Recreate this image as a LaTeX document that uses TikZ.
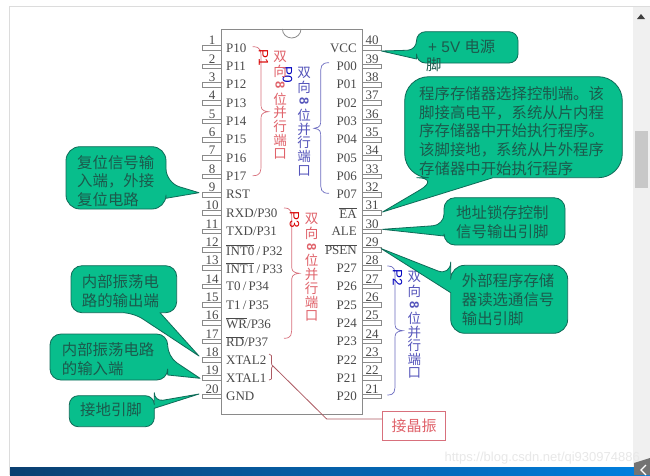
\documentclass[tikz,border=0pt]{standalone}
\usepackage{fontspec}
\setmainfont{Liberation Serif}
\newfontfamily\cjk{Noto Sans CJK SC}
\newfontfamily\arialf{Liberation Sans}
\definecolor{bubfill}{HTML}{08BE8C}
\definecolor{bubline}{HTML}{0F6B58}
\definecolor{bubtext}{HTML}{1C5A4C}
\definecolor{chipline}{HTML}{8A8A8A}
\definecolor{pintext}{HTML}{4A4A4A}
\definecolor{redbr}{HTML}{D8707C}
\definecolor{bluebr}{HTML}{6A6AC0}
\definecolor{redtx}{HTML}{E0626A}
\definecolor{bluetx}{HTML}{5555BB}
\definecolor{scrollbg}{HTML}{F0F0F0}
\definecolor{thumb}{HTML}{C8C8C8}
\definecolor{framegray}{HTML}{DCDCDC}
\definecolor{barleft}{HTML}{0A3F70}
\definecolor{barright}{HTML}{0080E0}
\tikzset{
  x=1pt,y=-1pt,
  bubble/.style={fill=bubfill,draw=bubline,line width=.8pt,line join=round},
  bubtxt/.style={font=\cjk\fontsize{15.4}{18.6}\selectfont,text=bubtext,inner sep=0pt,anchor=west,align=left},
  stub/.style={draw=chipline,fill=white,line width=.7pt,minimum width=18.5pt,minimum height=4.6pt,inner sep=0pt,outer sep=0pt},
  pinnum/.style={font=\fontsize{13}{13}\selectfont,text=pintext,inner sep=0pt},
  pinl/.style={font=\fontsize{13}{13}\selectfont,text=pintext,inner sep=0pt,anchor=west},
  pinr/.style={font=\fontsize{13}{13}\selectfont,text=pintext,inner sep=0pt,anchor=east},
  vcjkr/.style={font=\cjk\fontsize{13.5}{13.5}\selectfont,text=redtx,inner sep=0pt},
  vcjkb/.style={font=\cjk\fontsize{13.5}{13.5}\selectfont,text=bluetx,inner sep=0pt},
  brc/.style={line width=.7pt},
  portname/.style={font=\arialf\fontsize{13.5}{13.5}\selectfont,inner sep=0pt,rotate=-90},
}
% #1 side point A, #2 tip, #3 side point B, #4-#7 rectangle corners in order from B to A, #8 radius
\newcommand{\bubblepath}[8]{\path[bubble] #3 [rounded corners=#8] -- #4 -- #5 -- #6 -- #7 -- #1 [sharp corners] -- #2 -- cycle;}
\newcommand{\ovl}[1]{$\overline{\mbox{#1}}$}
% vertical caption: x, y of first char, spacing, style
\newcommand{\vcap}[5]{%
  \foreach \c [count=\i from 0] in {双,向,8,位,并,行,端,口}{
    \pgfmathsetmacro{\yy}{#2+\i*#3}
    \ifnum\i=2
      \node[#4,rotate=-90,font=\arialf\bfseries\fontsize{13}{13}\selectfont] (#5\i) at (#1,\yy) {\c};
    \else
      \node[#4] (#5\i) at (#1,\yy) {\c};
    \fi
  }}
% brace: #1 x-end, #2 y-top, #3 y-bottom, #4 x-mid, #5 x-tip, #6 y-tip, #7 colour
\newcommand{\bracep}[7]{%
  \draw[brc,draw=#7] (#1,#2) .. controls (#4,#2) and (#4,#2+4) .. (#4,#2+12)
    -- (#4,#6-9) .. controls (#4,#6-3) and (#4,#6-1) .. (#5,#6)
    .. controls (#4,#6+1) and (#4,#6+3) .. (#4,#6+9)
    -- (#4,#3-12) .. controls (#4,#3-4) and (#4,#3) .. (#1,#3);}
\begin{document}
\begin{tikzpicture}
\useasboundingbox (0,0) rectangle (650,475);
\fill[white] (0,0) rectangle (650,475);
% page frame
\fill[scrollbg] (633,7) rectangle (650,467);
\fill[thumb] (635,131) rectangle (648,188);
\fill[black!75] (641,14) -- (645,19) -- (637,19) -- cycle;
\draw[framegray,line width=1pt] (9.5,475) -- (9.5,6.5) -- (650,6.5);
\fill[left color=barleft,right color=barright] (10,467.5) rectangle (650,475);
\node[font=\arialf\fontsize{13}{13}\selectfont,text=black!9,inner sep=0pt,anchor=east] (wmark) at (640,458) {https://blog.csdn.net/qi930974886};
\fill[black!55] (634,463) -- (650,458) -- (650,475) -- (634,475) -- cycle;
\draw[white,line width=1.3pt] (646,465) -- (641,470) -- (646,475);
% chip
\node[draw=chipline,line width=.8pt,minimum width=141pt,minimum height=385pt,inner sep=0pt,outer sep=0pt] (chip) at (292,221.5) {};
\draw[chipline,line width=.8pt] (282.4,29) arc[start angle=180,end angle=360,x radius=9.3pt,y radius=9pt];
% pins
\foreach \n/\lab [count=\k from 0] in {1/P10,2/P11,3/P12,4/P13,5/P14,6/P15,7/P16,8/P17,9/RST,10/{RXD/P30},11/{TXD/P31},12/{\ovl{INT0}\,/\,P32},13/{\ovl{INT1}\,/\,P33},14/{T0\,/\,P34},15/{T1\,/\,P35},16/{\ovl{WR}/P36},17/{\ovl{RD}/P37},18/XTAL2,19/XTAL1,20/GND}{
  \pgfmathsetmacro{\py}{48+\k*18.34}
  \node[stub] (pin\n) at (212,\py) {};
  \node[pinnum] (num\n) at (212,\py-7.5) {\n};
  \node[pinl] (lab\n) at (226,\py) {\lab};
}
\foreach \n/\lab [count=\k from 0] in {40/VCC,39/P00,38/P01,37/P02,36/P03,35/P04,34/P05,33/P06,32/P07,31/{\ovl{EA}\hspace{3pt}},30/ALE,29/{\ovl{PSEN}},28/P27,27/P26,26/P25,25/P24,24/P23,23/P22,22/P21,21/P20}{
  \pgfmathsetmacro{\py}{48+\k*18.34}
  \node[stub] (pin\n) at (372,\py) {};
  \node[pinnum] (num\n) at (372,\py-7.5) {\n};
  \node[pinr] (lab\n) at (357,\py) {\lab};
}
% braces
\bracep{252.7}{46.7}{175.7}{261}{268.3}{111.7}{redbr}
\bracep{329}{62.7}{193.3}{320.7}{314}{128.3}{bluebr}
\bracep{284}{208}{338.3}{291.7}{299.3}{273.3}{redbr}
\bracep{387.3}{266}{395}{395}{402.7}{330.7}{bluebr}
\draw[brc,draw=redbr!80!black] (269,354) .. controls (272,354) and (271.5,356) .. (271.5,360) -- (271.5,363) .. controls (271.5,364.5) and (272,365.5) .. (273,366)
  .. controls (272,366.5) and (271.5,367.5) .. (271.5,369) -- (271.5,375) .. controls (271.5,379) and (272,380) .. (269,380);
% port captions
\node[portname,text=red!85!black] (p1) at (263.5,58) {P1};
\node[portname,text=blue!75!black] (p0) at (287.5,75) {P0};
\node[portname,text=red!85!black] (p3) at (294.5,220) {P3};
\node[portname,text=blue!75!black] (p2) at (397.5,278) {P2};
\vcap{280}{57.3}{13.85}{vcjkr}{va}
\vcap{304}{73.3}{13.9}{vcjkb}{vb}
\vcap{311.7}{219}{13.9}{vcjkr}{vc}
\vcap{414.3}{277.3}{13.7}{vcjkb}{vd}
% crystal note
\node[draw=redbr,line width=1pt,fill=white,minimum width=63pt,minimum height=29pt,inner sep=0pt,font=\cjk\fontsize{15}{15}\selectfont,text=redtx] (xtalbox) at (414.2,425.5) {接晶振};
\coordinate (xtip) at (273,366);
\coordinate (xbend) at (326.7,419);
\draw[line width=.8pt,draw=redbr!80!black] (xtip) -- (xbend) -- (xtalbox.west |- xbend);
% callouts
\bubblepath{(416.5,50)}{(381.5,51)}{(416.5,59)}{(416.5,63)}{(518,63)}{(518,31.7)}{(416.5,31.7)}{9pt}
\node[bubtxt,font=\arialf\fontsize{15.4}{15.4}\selectfont] (c1a) at (428,47) {+ 5V \cjk 电源};
\node[bubtxt] (c1b) at (426,64.5) {脚};

\bubblepath{(440.7,177.7)}{(382.5,212)}{(493,177.7)}{(622.3,177.7)}{(622.3,76.7)}{(404.7,76.7)}{(404.7,177.7)}{24pt}
\node[bubtxt,font=\cjk\fontsize{15.4}{18.7}\selectfont] (c2) at (419,131) {程序存储器选择控制端。该\\脚接高电平，系统从片内程\\序存储器中开始执行程序。\\该脚接地，系统从片外程序\\存储器中开始执行程序};

\bubblepath{(444,225)}{(382.5,229.3)}{(444,236)}{(444,245)}{(565,245)}{(565,197.7)}{(444,197.7)}{11pt}
\node[bubtxt] (c3) at (456,222) {地址锁存控制\\信号输出引脚};

\bubblepath{(450.7,276)}{(381,248.5)}{(450.7,292.7)}{(450.7,333.3)}{(567.7,333.3)}{(567.7,265.3)}{(450.7,265.3)}{14pt}
\node[bubtxt] (c4) at (461.7,299.5) {外部程序存储\\器读选通信号\\输出引脚};

\bubblepath{(166,182.7)}{(199,192.7)}{(166,198.3)}{(166,209)}{(66,209)}{(66,146.7)}{(166,146.7)}{14pt}
\node[bubtxt] (c5) at (77,181) {复位信号输\\入端，外接\\复位电路};

\bubblepath{(133.3,312.7)}{(199,356)}{(160,312.7)}{(176.7,312.7)}{(176.7,265.7)}{(71,265.7)}{(71,312.7)}{11pt}
\node[bubtxt] (c6) at (81.7,291) {内部振荡电\\路的输出端};

\bubblepath{(167.7,356.7)}{(200,378.3)}{(167.7,375)}{(167.7,380)}{(50,380)}{(50,334)}{(167.7,334)}{11pt}
\node[bubtxt] (c7) at (61.7,359) {内部振荡电路\\的输入端};

\bubblepath{(154.3,401.7)}{(199,394)}{(154.3,408.3)}{(154.3,426.7)}{(69.3,426.7)}{(69.3,395.7)}{(154.3,395.7)}{9pt}
\node[bubtxt] (c8) at (80,409.5) {接地引脚};
\end{tikzpicture}
\end{document}
